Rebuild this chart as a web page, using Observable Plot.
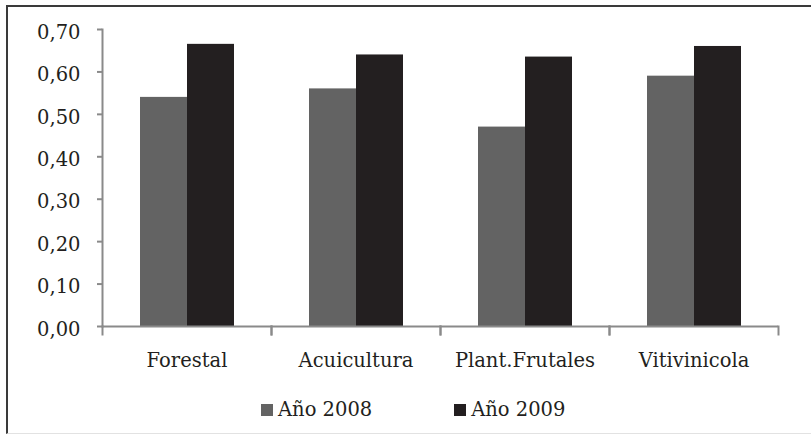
<!DOCTYPE html>
<html>
<head>
<meta charset="utf-8">
<script src="https://cdn.jsdelivr.net/npm/d3@7"></script>
<script src="https://cdn.jsdelivr.net/npm/@observablehq/plot@0.6"></script>
<style>
  html, body { margin: 0; padding: 0; background: #fff; overflow: hidden; }
  #wrap { position: relative; width: 811px; height: 436px; }
  #wrap svg { position: absolute; left: 0; top: 0; }
  #border {
    position: absolute; left: 6px; top: 5px; width: 830px; height: 429px;
    border-left: 2px solid #3a3a3a; border-top: 2px solid #3a3a3a;
    border-bottom: 1px solid #e2e2e2; box-sizing: border-box; pointer-events: none;
  }
  #legend {
    position: absolute; left: 261px; top: 398px; display: flex; align-items: center;
    font: 19.5px "DejaVu Serif", serif; color: #231f20;
  }
  #legend .item { display: flex; align-items: center; margin-right: 82px; }
  #legend .sw { width: 12px; height: 12px; margin-right: 5px; }
</style>
</head>
<body>
<div id="wrap"><div id="border"></div><div id="legend"></div></div>
<script>
// Sectors and yearly index values
const categories = ["Forestal", "Acuicultura", "Plant.Frutales", "Vitivinicola"];
const series = ["Año 2008", "Año 2009"];
const values2008 = [0.54, 0.56, 0.47, 0.59];
const values2009 = [0.665, 0.64, 0.635, 0.66];
const yTicks = [0, 0.1, 0.2, 0.3, 0.4, 0.5, 0.6, 0.7];
const colors = ["#636363", "#231f20"];

const rows = categories.flatMap((c, i) => [
  {sector: c, serie: series[0], value: values2008[i]},
  {sector: c, serie: series[1], value: values2009[i]}
]);

const W = 811, H = 436;
const margin = {top: 29, right: 32, bottom: 110, left: 100};
const plotH = H - margin.top - margin.bottom;
const axisColor = "#8a8a8a";
const fmt = (d) => d3.format(".2f")(d).replace(".", ",");

const chart = Plot.plot({
  width: W,
  height: H,
  marginTop: margin.top,
  marginRight: margin.right,
  marginBottom: margin.bottom,
  marginLeft: margin.left,
  style: {fontFamily: "'DejaVu Serif', serif", fontSize: "19.5px", color: "#231f20", background: "transparent"},
  fx: {domain: categories, padding: 0, label: null},
  x: {domain: series, paddingInner: 0, paddingOuter: 0.77, axis: null},
  y: {domain: [0, 0.7], label: null},
  color: {domain: series, range: colors},
  marks: [
    Plot.barY(rows, {fx: "sector", x: "serie", y: "value", fill: "serie"}),
    // value axis line
    Plot.frame({anchor: "left", facetAnchor: "left", stroke: axisColor, strokeWidth: 2}),
    // category axis line with ticks at the group boundaries
    Plot.ruleY([0], {stroke: axisColor, strokeWidth: 2}),
    Plot.frame({anchor: "left", insetTop: plotH, insetBottom: -8, stroke: axisColor, strokeWidth: 2}),
    Plot.frame({anchor: "right", insetTop: plotH, insetBottom: -8, stroke: axisColor, strokeWidth: 2}),
    Plot.axisY({ticks: yTicks, tickFormat: fmt, tickSize: 5, stroke: axisColor, strokeWidth: 2, text: null}),
    Plot.axisY({ticks: yTicks, tickFormat: fmt, tickSize: 0, tickPadding: 22, dy: 3, label: null}),
    Plot.axisFx({anchor: "bottom", tickSize: 0, tickPadding: 27, label: null})
  ]
});

document.getElementById("wrap").prepend(chart);

// legend below the chart
const legend = d3.select("#legend");
series.forEach((s, i) => {
  const item = legend.append("div").attr("class", "item");
  item.append("div").attr("class", "sw").style("background", colors[i]);
  item.append("span").text(s);
});
</script>
</body>
</html>
